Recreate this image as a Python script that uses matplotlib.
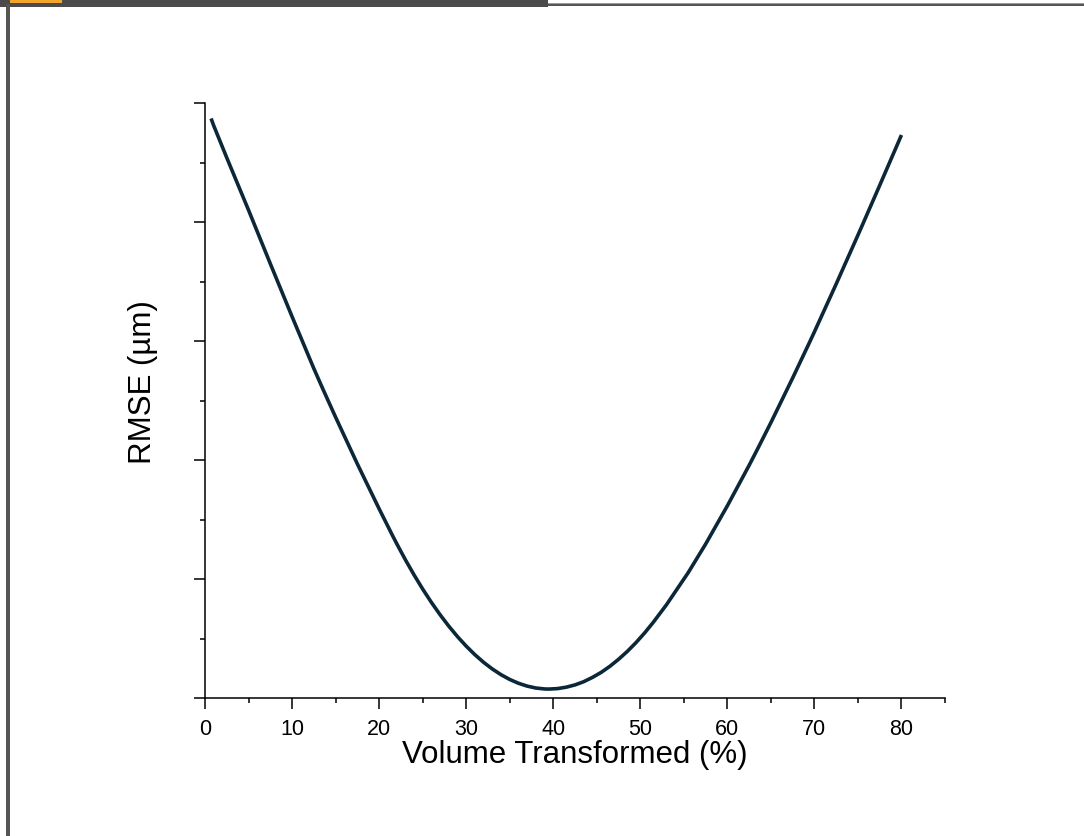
import matplotlib
matplotlib.use('Agg')
import matplotlib.pyplot as plt
from matplotlib.patches import Rectangle
from matplotlib.ticker import MultipleLocator, NullFormatter

plt.rcParams['font.family'] = ['Liberation Sans', 'DejaVu Sans']

# RMSE against fraction of volume transformed
volume = [0.7, 1, 2.5, 5, 7.5, 10, 12.5, 13.5, 15, 17.5, 20, 21.5, 22, 23, 24,
          25, 26, 27, 28, 29, 30, 31, 32, 33, 34, 35, 36, 37, 38, 39, 39.5,
          40.5, 41.5, 42.5, 43.5, 44.5, 45.5, 46.5, 47.5, 48.5, 49.5, 50.5,
          51.5, 53, 55.5, 57.5, 60, 62.5, 63.5, 65, 67.5, 69.5, 70, 72.5, 75,
          75.5, 77.5, 80]
rmse = [4.87, 4.81, 4.54, 4.10, 3.65, 3.205, 2.769, 2.603, 2.36, 1.967, 1.59,
        1.371, 1.30, 1.164, 1.036, 0.916, 0.804, 0.70, 0.604, 0.516, 0.436,
        0.364, 0.30, 0.244, 0.196, 0.156, 0.124, 0.10, 0.084, 0.076, 0.075,
        0.079, 0.091, 0.110, 0.137, 0.173, 0.215, 0.266, 0.325, 0.391, 0.465,
        0.547, 0.637, 0.783, 1.053, 1.293, 1.615, 1.955, 2.097, 2.314, 2.689,
        2.998, 3.077, 3.479, 3.890, 3.973, 4.308, 4.731]

W, H = 1084, 836
fig = plt.figure(figsize=(W / 100, H / 100), dpi=100)
fig.patch.set_facecolor('white')

# window chrome around the plot
def box(x0, y0, x1, y1, color):
    fig.patches.append(Rectangle((x0 / W, 1 - y1 / H), (x1 - x0) / W, (y1 - y0) / H,
                                 transform=fig.transFigure, color=color, lw=0, zorder=0))

box(0, 0, 548, 7, '#4b4b4b')
box(10, 0, 62, 3, '#f3a62c')
box(548, 3, W, 4, '#9a9a9a')
box(548, 4, W, 6, '#555555')
box(6, 4, 10, H, '#555555')

ax = fig.add_axes([205 / W, 1 - 698 / H, 740 / W, 595 / H])
ax.plot(volume, rmse, color='#0c2838', lw=2.6, solid_capstyle='butt',
        solid_joinstyle='round')

ax.set_xlim(0, 85)
ax.set_ylim(0, 5)
ax.xaxis.set_major_locator(MultipleLocator(10))
ax.xaxis.set_minor_locator(MultipleLocator(5))
ax.yaxis.set_major_locator(MultipleLocator(1))
ax.yaxis.set_minor_locator(MultipleLocator(0.5))
ax.yaxis.set_major_formatter(NullFormatter())

ax.spines['top'].set_visible(False)
ax.spines['right'].set_visible(False)
for s in ('left', 'bottom'):
    ax.spines[s].set_linewidth(1.1)
ax.tick_params(which='major', direction='out', length=8, width=1.1,
               labelsize=15.5, pad=7)
ax.tick_params(which='minor', direction='out', length=3.8, width=1.1)

ax.set_xlabel('Volume Transformed (%)', fontsize=22.5)
ax.set_ylabel('RMSE (µm)', fontsize=22.5)
ax.xaxis.set_label_coords(0.5, -0.07)
ax.yaxis.set_label_coords(-0.0635, 0.531)

fig.savefig('out.png', dpi=100)
